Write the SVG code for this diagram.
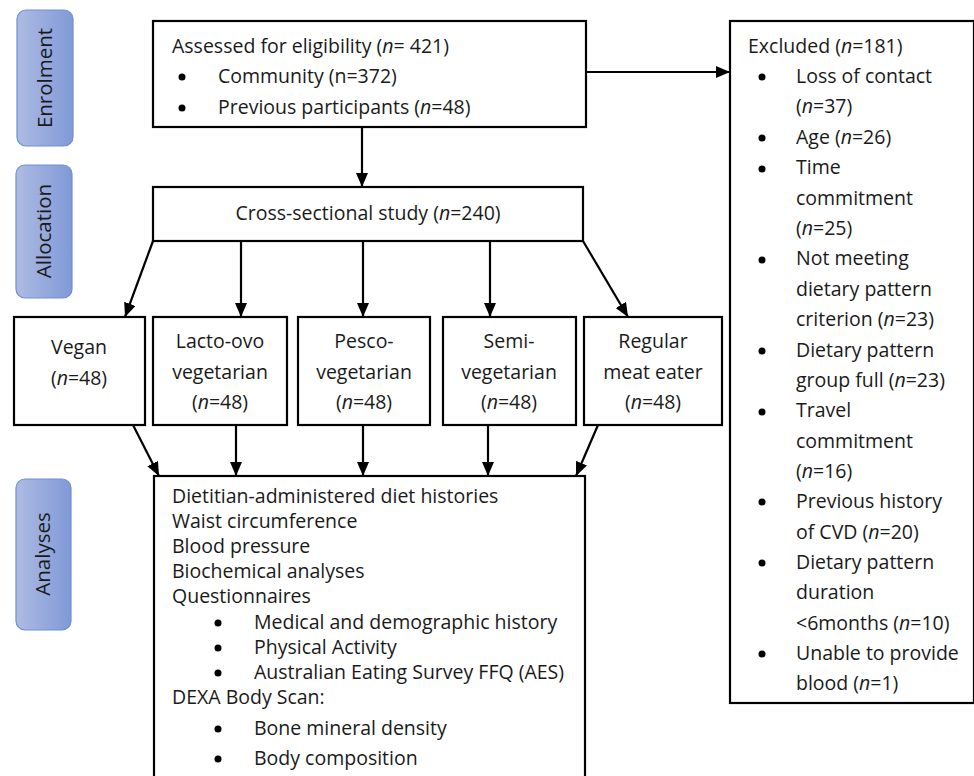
<svg xmlns="http://www.w3.org/2000/svg" width="974" height="776" viewBox="0 0 974 776">
<defs>
<linearGradient id="side" x1="0" y1="0" x2="1" y2="0">
<stop offset="0" stop-color="#aebbe3"/>
<stop offset="1" stop-color="#8099d7"/>
</linearGradient>
<marker id="arr" viewBox="0 0 14 12" refX="14" refY="6" markerWidth="14" markerHeight="12" orient="auto" markerUnits="userSpaceOnUse">
<path d="M0,0 L14,6 L0,12 Z" fill="#000"/>
</marker>
</defs>
<style>
text{font-family:"Open Sans","Noto Sans","Liberation Sans",sans-serif;font-size:19.5px;fill:#1a1a1a;font-weight:400}
.c{text-anchor:middle}
.s{font-size:20.5px}
.i{font-style:italic}
.box{fill:#fff;stroke:#000;stroke-width:2.2}
.side{fill:url(#side);stroke:#6f8fd6;stroke-width:1.2}
.ln{stroke:#000;stroke-width:2.2;fill:none;marker-end:url(#arr)}
.b{fill:#000}
</style>
<rect width="974" height="776" fill="#fff"/>

<g id="side-enrolment">
<rect class="side" x="17" y="10" width="56" height="136" rx="9"/>
<text class="c s" transform="translate(52,78) rotate(-90)">Enrolment</text>
</g>
<g id="side-allocation">
<rect class="side" x="16" y="165" width="56" height="133" rx="9"/>
<text class="c s" transform="translate(51,231) rotate(-90)">Allocation</text>
</g>
<g id="side-analyses">
<rect class="side" x="16" y="479" width="55" height="151" rx="9"/>
<text class="c s" transform="translate(50,554) rotate(-90)">Analyses</text>
</g>

<g id="assessed">
<rect class="box" x="153" y="21" width="433" height="106"/>
<text x="172" y="53">Assessed for eligibility (<tspan class="i">n</tspan>= 421)</text>
<circle class="b" cx="182" cy="77" r="3.5"/>
<text x="218" y="83">Community (n=372)</text>
<circle class="b" cx="182" cy="108" r="3.5"/>
<text x="218" y="114">Previous participants (<tspan class="i">n</tspan>=48)</text>
</g>

<g id="excluded">
<rect class="box" x="730" y="21" width="244" height="682"/>
<text x="748" y="53">Excluded (<tspan class="i">n</tspan>=181)</text>
<g class="b">
<circle cx="762" cy="77" r="3.5"/>
<circle cx="762" cy="138" r="3.5"/>
<circle cx="762" cy="169" r="3.5"/>
<circle cx="762" cy="260" r="3.5"/>
<circle cx="762" cy="351" r="3.5"/>
<circle cx="762" cy="412" r="3.5"/>
<circle cx="762" cy="502" r="3.5"/>
<circle cx="762" cy="563" r="3.5"/>
<circle cx="762" cy="654" r="3.5"/>
</g>
<text x="796" y="83">Loss of contact</text>
<text x="796" y="113">(<tspan class="i">n</tspan>=37)</text>
<text x="796" y="144">Age (<tspan class="i">n</tspan>=26)</text>
<text x="796" y="174">Time</text>
<text x="796" y="205">commitment</text>
<text x="796" y="235">(<tspan class="i">n</tspan>=25)</text>
<text x="796" y="265">Not meeting</text>
<text x="796" y="296">dietary pattern</text>
<text x="796" y="326">criterion (<tspan class="i">n</tspan>=23)</text>
<text x="796" y="357">Dietary pattern</text>
<text x="796" y="387">group full (<tspan class="i">n</tspan>=23)</text>
<text x="796" y="417">Travel</text>
<text x="796" y="448">commitment</text>
<text x="796" y="478">(<tspan class="i">n</tspan>=16)</text>
<text x="796" y="508">Previous history</text>
<text x="796" y="539">of CVD (<tspan class="i">n</tspan>=20)</text>
<text x="796" y="569">Dietary pattern</text>
<text x="796" y="599">duration</text>
<text x="796" y="630">&lt;6months (<tspan class="i">n</tspan>=10)</text>
<text x="796" y="660">Unable to provide</text>
<text x="796" y="690">blood (<tspan class="i">n</tspan>=1)</text>
</g>

<g id="cross-sectional">
<rect class="box" x="153" y="187" width="430" height="54"/>
<text class="c" x="368" y="220">Cross-sectional study (<tspan class="i">n</tspan>=240)</text>
</g>

<g id="vegan">
<rect class="box" x="14" y="317" width="131" height="108"/>
<text class="c" x="79" y="354">Vegan</text>
<text class="c" x="79" y="385">(<tspan class="i">n</tspan>=48)</text>
</g>
<g id="lacto-ovo">
<rect class="box" x="153" y="317" width="134" height="108"/>
<text class="c" x="220" y="348">Lacto-ovo</text>
<text class="c" x="220" y="379">vegetarian</text>
<text class="c" x="220" y="409">(<tspan class="i">n</tspan>=48)</text>
</g>
<g id="pesco">
<rect class="box" x="298" y="317" width="132" height="108"/>
<text class="c" x="364" y="348">Pesco-</text>
<text class="c" x="364" y="379">vegetarian</text>
<text class="c" x="364" y="409">(<tspan class="i">n</tspan>=48)</text>
</g>
<g id="semi">
<rect class="box" x="443" y="317" width="133" height="108"/>
<text class="c" x="509" y="348">Semi-</text>
<text class="c" x="509" y="379">vegetarian</text>
<text class="c" x="509" y="409">(<tspan class="i">n</tspan>=48)</text>
</g>
<g id="regular">
<rect class="box" x="584" y="317" width="138" height="108"/>
<text class="c" x="653" y="348">Regular</text>
<text class="c" x="653" y="379">meat eater</text>
<text class="c" x="653" y="409">(<tspan class="i">n</tspan>=48)</text>
</g>

<g id="analyses">
<rect class="box" x="154" y="476" width="431" height="310"/>
<text x="172" y="503">Dietitian-administered diet histories</text>
<text x="172" y="528">Waist circumference</text>
<text x="172" y="553">Blood pressure</text>
<text x="172" y="578">Biochemical analyses</text>
<text x="172" y="603">Questionnaires</text>
<circle class="b" cx="218" cy="623" r="3.5"/>
<text x="254" y="629">Medical and demographic history</text>
<circle class="b" cx="218" cy="648" r="3.5"/>
<text x="254" y="654">Physical Activity</text>
<circle class="b" cx="218" cy="673" r="3.5"/>
<text x="254" y="679">Australian Eating Survey FFQ (AES)</text>
<text x="172" y="704">DEXA Body Scan:</text>
<circle class="b" cx="218" cy="729" r="3.5"/>
<text x="254" y="735">Bone mineral density</text>
<circle class="b" cx="218" cy="759" r="3.5"/>
<text x="254" y="765">Body composition</text>
</g>

<g id="connectors">
<line class="ln" x1="586" y1="72" x2="730" y2="72"/>
<line class="ln" x1="362" y1="127" x2="362" y2="187"/>
<line class="ln" x1="153" y1="241" x2="125" y2="317"/>
<line class="ln" x1="241" y1="241" x2="241" y2="317"/>
<line class="ln" x1="363" y1="241" x2="363" y2="317"/>
<line class="ln" x1="490" y1="241" x2="490" y2="317"/>
<line class="ln" x1="583" y1="241" x2="628" y2="317"/>
<line class="ln" x1="133" y1="425" x2="159" y2="476"/>
<line class="ln" x1="236" y1="425" x2="236" y2="476"/>
<line class="ln" x1="363" y1="425" x2="363" y2="476"/>
<line class="ln" x1="488" y1="425" x2="488" y2="476"/>
<line class="ln" x1="598" y1="425" x2="576" y2="476"/>
</g>
</svg>
